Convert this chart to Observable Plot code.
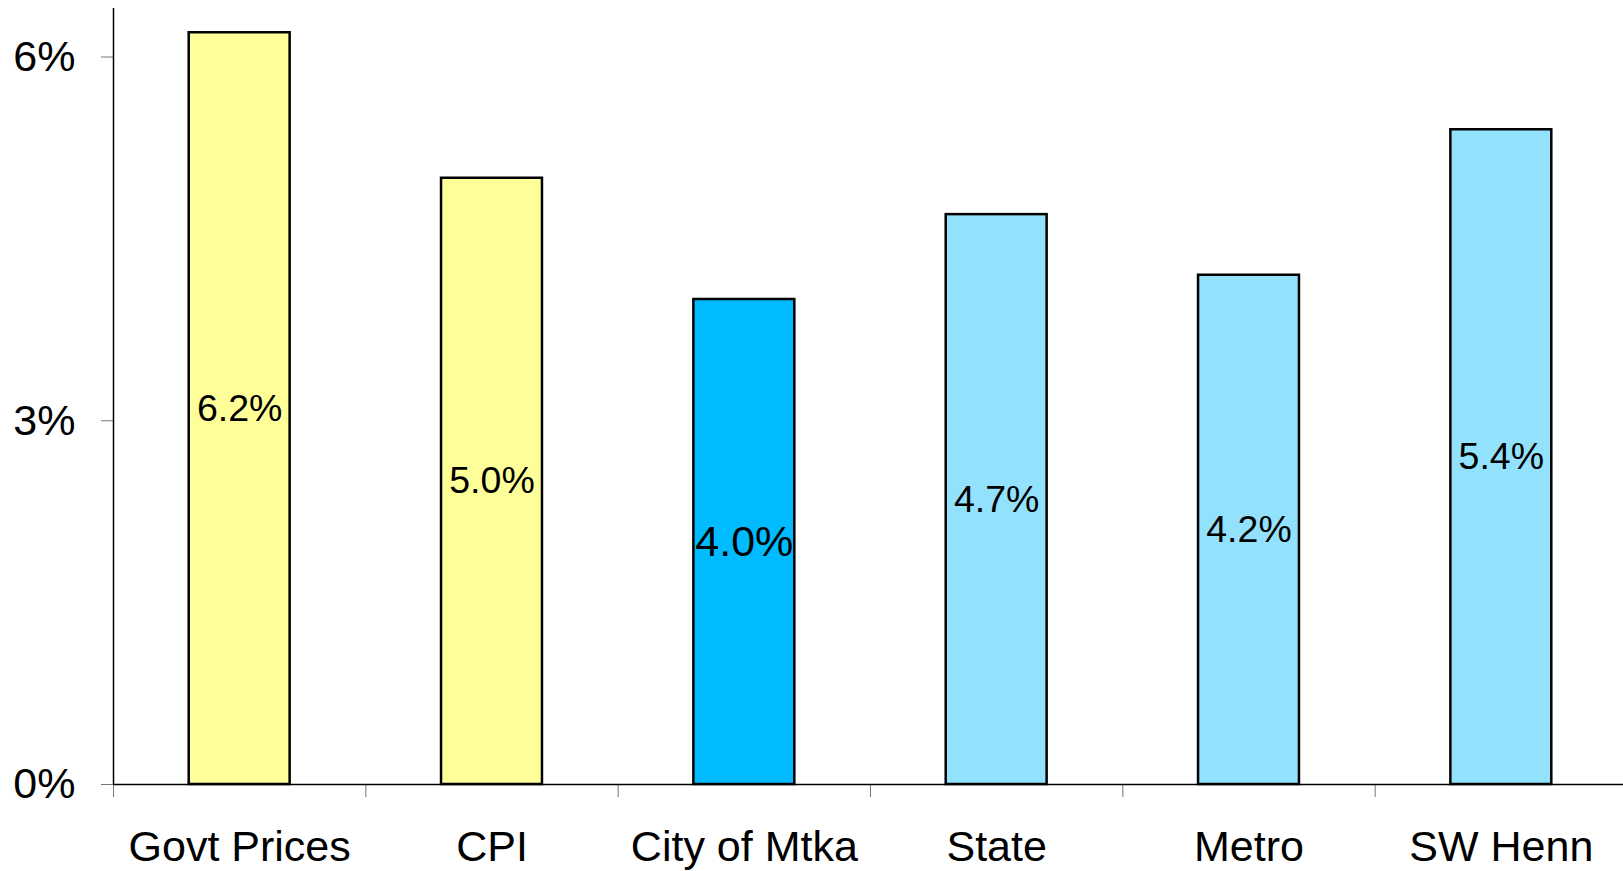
<!DOCTYPE html>
<html>
<head>
<meta charset="utf-8">
<script src="https://cdn.jsdelivr.net/npm/d3@7"></script>
<script src="https://cdn.jsdelivr.net/npm/@observablehq/plot@0.6"></script>
<style>
  html, body { margin: 0; padding: 0; background: #fff; overflow: hidden; }
  svg { display: block; }
</style>
</head>
<body>
<div id="chart"></div>
<script>
const categories = ["Govt Prices", "CPI", "City of Mtka", "State", "Metro", "SW Henn"];
const values = [6.2, 5.0, 4.0, 4.7, 4.2, 5.4];
const groups = ["prices", "prices", "city", "others", "others", "others"];
const yTicks = [0, 3, 6];
const highlight = "City of Mtka";

const groupColors = { prices: "#FFFF99", city: "#00BBFF", others: "#93E2FD" };

const data = categories.map((c, i) => ({ i, category: c, value: values[i], group: groups[i] }));
const boundaries = d3.range(categories.length + 1);
const centers = categories.map((c, i) => i + 0.5);

const font = "'Liberation Sans', Arial, Helvetica, sans-serif";

const chart = Plot.plot({
  width: 1623,
  height: 871,
  marginLeft: 113,
  marginRight: 0,
  marginTop: 8,
  marginBottom: 87,
  style: { fontFamily: font, background: "#fff", overflow: "hidden" },
  x: { type: "linear", domain: [0, categories.length], range: [113, 1627], axis: null },
  y: { domain: [0, 6.4], axis: null },
  marks: [
    Plot.rect(data, {
      x1: d => d.i + 0.3,
      x2: d => d.i + 0.7,
      y1: 0,
      y2: "value",
      fill: d => groupColors[d.group],
      stroke: "#000",
      strokeWidth: 2.5
    }),
    Plot.text(data.filter(d => d.category !== highlight), {
      x: d => d.i + 0.5,
      y: d => d.value / 2,
      text: d => d.value.toFixed(1) + "%",
      fontSize: 37.5,
      fill: "#000"
    }),
    Plot.text(data.filter(d => d.category === highlight), {
      x: d => d.i + 0.5,
      y: d => d.value / 2,
      text: d => d.value.toFixed(1) + "%",
      fontSize: 43,
      fill: "#000"
    }),
    Plot.axisY({
      ticks: yTicks,
      tickFormat: d => d + "%",
      tickSize: 12,
      tickPadding: 26,
      fontSize: 43,
      stroke: "#777",
      color: "#000",
      label: null
    }),
    Plot.axisX({
      ticks: boundaries,
      tickFormat: () => "",
      tickSize: 13,
      stroke: "#777",
      label: null
    }),
    Plot.axisX({
      ticks: centers,
      tickFormat: d => categories[Math.floor(d)],
      tickSize: 0,
      tickPadding: 46,
      fontSize: 43,
      color: "#000",
      label: null
    }),
    Plot.ruleX([0], { stroke: "#000", strokeWidth: 1.5 }),
    Plot.ruleY([0], { stroke: "#000", strokeWidth: 1.5 })
  ]
});

document.getElementById("chart").appendChild(chart);
</script>
</body>
</html>
